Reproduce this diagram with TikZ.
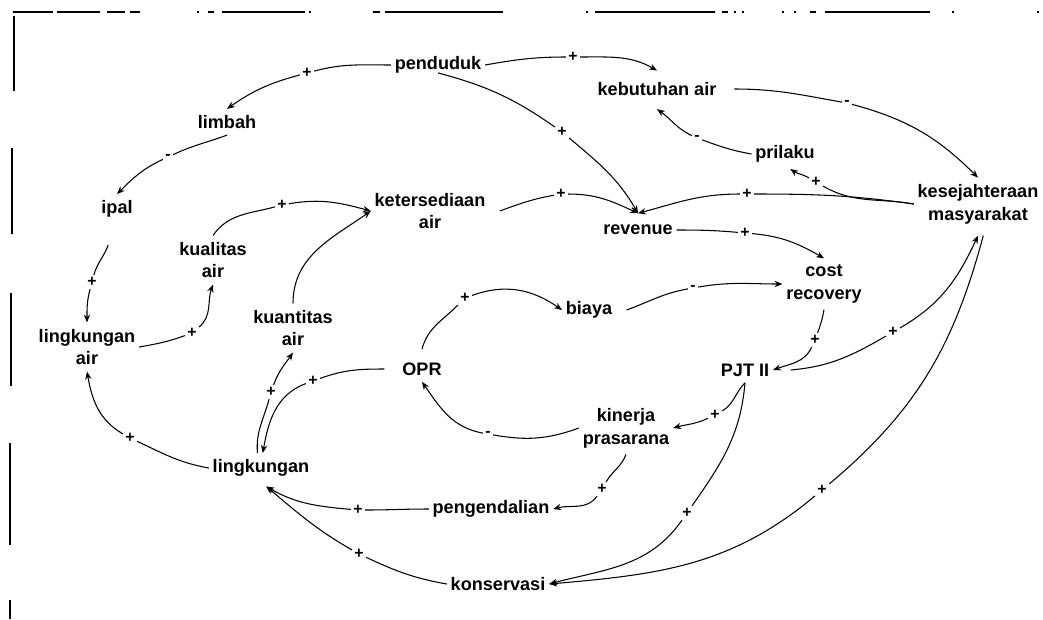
\documentclass[tikz,border=0pt]{standalone}
\usepackage{fontspec}
\setmainfont{Liberation Sans}
\usetikzlibrary{arrows.meta}
\tikzset{
    loop-var/.style = {font=\fontsize{10.3}{13}\selectfont\bfseries, align=center, inner sep=2pt, inner ysep=3.5pt},
    loop-sign/.style = {font=\fontsize{9}{9}\selectfont\bfseries, inner sep=1.2pt},
    loop-link/.style = {draw, line width=0.6pt, -{Stealth[length=4.5pt,width=3.6pt]}},
    scan-rule/.style = {line width=1pt},
}

\begin{document}
\begin{tikzpicture}[x=0.02cm, y=-0.02cm]
\useasboundingbox (0,0) rectangle (1043,619);

% broken frame of the scan
\foreach \a/\b in {13/53, 57/100, 107/125, 130/140, 197/199, 208/214, 222/305, 309/311, 373/380, 385/503, 586/588, 595/715, 722/728, 734/736, 742/744, 782/784, 794/796, 810/816, 825/930, 952/954, 1037/1039}
    \draw[scan-rule] (\a,12) -- (\b,12);
\foreach \a/\b/\x in {16/91/14, 148/234/12, 293/386/11, 443/545/10, 600/619/10}
    \draw[scan-rule] (\x,\a) -- (\x,\b);

% variables
\node[loop-var] (penduduk) at (438,65) {penduduk};
\node[loop-var] (kebutuhan) at (657,89) {kebutuhan air};
\node[loop-var] (limbah) at (227,122) {limbah};
\node[loop-var] (prilaku) at (785,154) {prilaku};
\node[loop-var] (ipal) at (117,209) {ipal};
\node[loop-var] (ketersediaan) at (430,211) {ketersediaan\\air};
\node[loop-var] (sejahtera) at (978,204) {kesejahteraan\\masyarakat};
\node[loop-var] (kualitas) at (213,260) {kualitas\\air};
\node[loop-var] (revenue) at (638,230) {revenue};
\node[loop-var] (cost) at (824,284) {cost\\recovery};
\node[loop-var] (biaya) at (589,310) {biaya};
\node[loop-var] (kuantitas) at (293,328) {kuantitas\\air};
\node[loop-var] (lingair) at (87,347) {lingkungan\\air};
\node[loop-var] (opr) at (422,369) {OPR};
\node[loop-var] (pjt) at (745,370) {PJT II};
\node[loop-var] (kinerja) at (626,428) {kinerja\\prasarana};
\node[loop-var] (lingkungan) at (261,468) {lingkungan};
\node[loop-var] (pengendalian) at (491,509) {pengendalian};
\node[loop-var] (konservasi) at (498,584) {konservasi};

% polarity signs
\node[loop-sign] (s-pk) at (573,57) {+};
\node[loop-sign] (s-pl) at (307,73) {+};
\node[loop-sign] (s-li) at (168,157) {-};
\node[loop-sign] (s-il) at (92,282) {+};
\node[loop-sign] (s-lk) at (192,333) {+};
\node[loop-sign] (s-kk) at (282,205) {+};
\node[loop-sign] (s-ll) at (130,438) {+};
\node[loop-sign] (s-lq) at (271,392) {+};
\node[loop-sign] (s-ol) at (313,381) {+};
\node[loop-sign] (s-ob) at (465,298) {+};
\node[loop-sign] (s-bc) at (693,288) {-};
\node[loop-sign] (s-rc) at (745,233) {+};
\node[loop-sign] (s-cp) at (815,340) {+};
\node[loop-sign] (s-ps) at (893,332) {+};
\node[loop-sign] (s-sk) at (822,490) {+};
\node[loop-sign] (s-pv) at (687,513) {+};
\node[loop-sign] (s-pi) at (715,415) {+};
\node[loop-sign] (s-ko) at (488,434) {-};
\node[loop-sign] (s-kp) at (602,489) {+};
\node[loop-sign] (s-gl) at (358,510) {+};
\node[loop-sign] (s-vl) at (359,554) {+};
\node[loop-sign] (s-ks) at (847,103) {-};
\node[loop-sign] (s-rk) at (697,138) {-};
\node[loop-sign] (s-sr) at (816,182) {+};
\node[loop-sign] (s-sv) at (747,194) {+};
\node[loop-sign] (s-pr) at (562,132) {+};
\node[loop-sign] (s-tr) at (561,194) {+};

% causal links
\draw[loop-link] (penduduk.east) to[out=10,in=180] (s-pk) to[out=0,in=150] ([yshift=3pt]kebutuhan.north);
\draw[loop-link] (penduduk.west) to[out=180,in=15] (s-pl) to[out=195,in=35] (limbah.north);
\draw[loop-link] (limbah.south) to[out=200,in=25] (s-li) to[out=205,in=45] (ipal.north);
\draw[loop-link] ([xshift=-5pt,yshift=-12pt]ipal.south) to[out=250,in=75] (s-il) to[out=255,in=90] (lingair.north);
\draw[loop-link] (lingair.east) to[out=10,in=200] (s-lk) to[out=40,in=250] (kualitas.south);
\draw[loop-link] (kualitas.north) to[out=55,in=195] (s-kk) to[out=10,in=165] (ketersediaan.west);
\draw[loop-link] (kuantitas.north) to[out=90,in=215] (ketersediaan.west);
\draw[loop-link] (lingkungan.west) to[out=170,in=-25] (s-ll) to[out=150,in=-80] (lingair.south);
\draw[loop-link] ([xshift=-2pt]lingkungan.north) to[out=95,in=-105] (s-lq) to[out=70,in=-125] (kuantitas.south);
\draw[loop-link] ([xshift=-8pt]opr.west) to[out=180,in=20] (s-ol) to[out=200,in=80] ([xshift=1pt]lingkungan.north);
\draw[loop-link] ([yshift=4pt]opr.north) to[out=75,in=225] (s-ob) to[out=20,in=145] (biaya.west);
\draw[loop-link] ([xshift=6pt]biaya.east) to[out=20,in=190] (s-bc) to[out=10,in=180] (cost.west);
\draw[loop-link] (revenue.east) to[out=0,in=175] (s-rc) to[out=-5,in=150] (cost.north);
\draw[loop-link] (cost.south) to[out=-100,in=70] (s-cp) to[out=-115,in=20] (pjt.east);
\draw[loop-link] ([xshift=10pt]pjt.east) to[out=5,in=210] (s-ps) to[out=30,in=245] ([yshift=-3pt]sejahtera.south);
\draw[loop-link] ([xshift=3pt,yshift=-3pt]sejahtera.south) to[out=-105,in=40] (s-sk) to[out=220,in=5] (konservasi.east);
\draw[loop-link] (pjt.south) to[out=-95,in=55] (s-pv) to[out=235,in=15] (konservasi.east);
\draw[loop-link] (pjt.south) to[out=225,in=30] (s-pi) to[out=205,in=15] (kinerja.east);
\draw[loop-link] (kinerja.west) to[out=200,in=-10] (s-ko) to[out=170,in=-55] (opr.south);
\draw[loop-link] (kinerja.south) to[out=-110,in=60] (s-kp) to[out=235,in=15] (pengendalian.east);
\draw[loop-link] (pengendalian.west) to[out=180,in=0] (s-gl) to[out=175,in=-30] ([xshift=3pt,yshift=-2pt]lingkungan.south);
\draw[loop-link] (konservasi.west) to[out=170,in=-25] (s-vl) to[out=150,in=-40] ([xshift=3pt,yshift=-2pt]lingkungan.south);
\draw[loop-link] ([xshift=8pt]kebutuhan.east) to[out=0,in=170] (s-ks) to[out=-15,in=135] (sejahtera.north);
\draw[loop-link] (prilaku.west) to[out=170,in=-20] (s-rk) to[out=155,in=-35] ([yshift=-4pt]kebutuhan.south);
\draw[loop-link] (sejahtera.west) to[out=170,in=-30] (s-sr) to[out=150,in=-35] ([xshift=3pt]prilaku.south);
\draw[loop-link] (sejahtera.west) to[out=172,in=0] (s-sv) to[out=180,in=15] ([yshift=3pt]revenue.north);
\draw[loop-link] ([yshift=4pt]penduduk.south) to[out=-15,in=145] (s-pr) to[out=-40,in=120] ([yshift=3pt]revenue.north);
\draw[loop-link] ([xshift=6pt]ketersediaan.east) to[out=20,in=190] (s-tr) to[out=0,in=155] ([yshift=3pt]revenue.north);
\end{tikzpicture}
\end{document}
